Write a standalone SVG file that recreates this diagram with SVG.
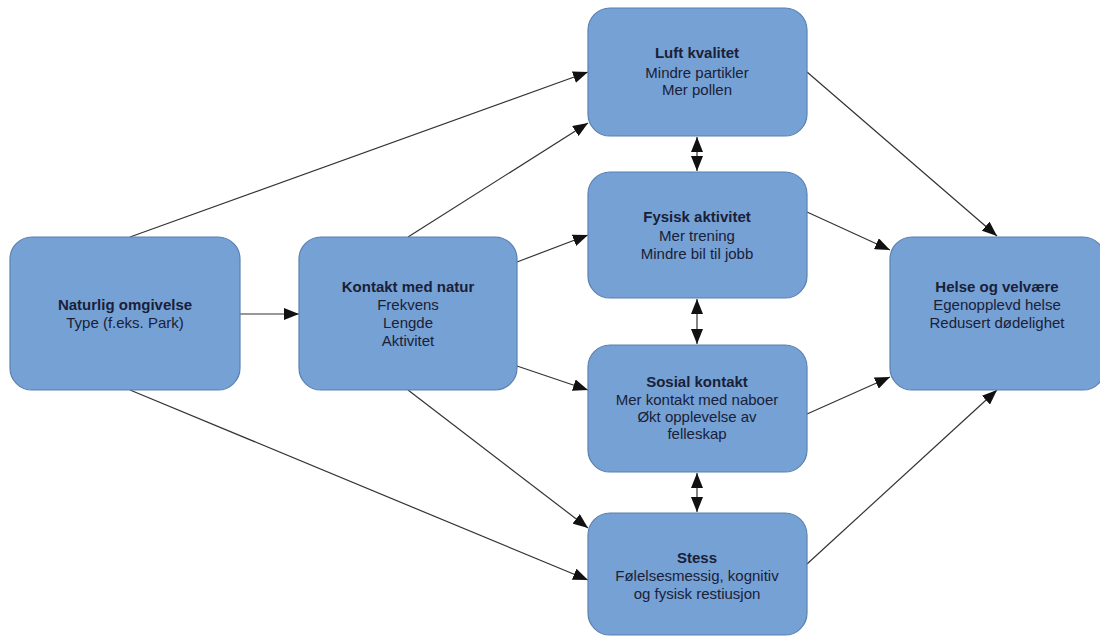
<svg xmlns="http://www.w3.org/2000/svg" width="1100" height="636" viewBox="0 0 1100 636">
<defs>
<style>
.node rect{fill:#75a1d4;stroke:#5b80b0;stroke-width:1.2}
.node text{font-family:"Liberation Sans",Arial,sans-serif;font-size:15px;fill:#1a2038;text-anchor:middle}
.node .t{font-weight:bold}
.edges line{stroke:#333;stroke-width:1.2;fill:none}
</style>
<marker id="arr" markerUnits="userSpaceOnUse" markerWidth="16" markerHeight="12" refX="15" refY="6" orient="auto-start-reverse">
<path d="M0,0 L15,6 L0,12 z" fill="#111"/>
</marker>
</defs>
<rect width="1100" height="636" fill="#fff"/>
<g class="edges">
<line x1="130" y1="237" x2="588" y2="72" marker-end="url(#arr)"/>
<line x1="408" y1="237" x2="588" y2="123" marker-end="url(#arr)"/>
<line x1="240" y1="314" x2="299" y2="314" marker-end="url(#arr)"/>
<line x1="517" y1="262" x2="588" y2="235" marker-end="url(#arr)"/>
<line x1="517" y1="366" x2="588" y2="390" marker-end="url(#arr)"/>
<line x1="408" y1="390" x2="588" y2="528" marker-end="url(#arr)"/>
<line x1="130" y1="390" x2="588" y2="580" marker-end="url(#arr)"/>
<line x1="807" y1="72" x2="997" y2="236" marker-end="url(#arr)"/>
<line x1="807" y1="212" x2="890" y2="250" marker-end="url(#arr)"/>
<line x1="807" y1="414" x2="890" y2="377" marker-end="url(#arr)"/>
<line x1="807" y1="564" x2="997" y2="390" marker-end="url(#arr)"/>
<line x1="697" y1="137" x2="697" y2="171" marker-start="url(#arr)" marker-end="url(#arr)"/>
<line x1="697" y1="299" x2="697" y2="344" marker-start="url(#arr)" marker-end="url(#arr)"/>
<line x1="697" y1="473" x2="697" y2="512" marker-start="url(#arr)" marker-end="url(#arr)"/>
</g>
<g id="naturlig" class="node">
<rect x="10" y="237" width="230" height="153" rx="22"/>
<text class="t" x="125" y="310">Naturlig omgivelse</text>
<text x="125" y="328">Type (f.eks. Park)</text>
</g>
<g id="kontakt" class="node">
<rect x="299" y="237" width="218" height="153" rx="22"/>
<text class="t" x="408" y="292">Kontakt med natur</text>
<text x="408" y="310">Frekvens</text>
<text x="408" y="328">Lengde</text>
<text x="408" y="346">Aktivitet</text>
</g>
<g id="luft" class="node">
<rect x="588" y="8" width="219" height="128" rx="22"/>
<text class="t" x="697" y="58">Luft kvalitet</text>
<text x="697" y="78">Mindre partikler</text>
<text x="697" y="95">Mer pollen</text>
</g>
<g id="fysisk" class="node">
<rect x="588" y="172" width="219" height="126" rx="22"/>
<text class="t" x="697" y="222">Fysisk aktivitet</text>
<text x="697" y="241">Mer trening</text>
<text x="697" y="259">Mindre bil til jobb</text>
</g>
<g id="sosial" class="node">
<rect x="588" y="345" width="219" height="127" rx="22"/>
<text class="t" x="697" y="387">Sosial kontakt</text>
<text x="697" y="405">Mer kontakt med naboer</text>
<text x="697" y="422">Økt opplevelse av</text>
<text x="697" y="439">felleskap</text>
</g>
<g id="stess" class="node">
<rect x="588" y="513" width="219" height="122" rx="22"/>
<text class="t" x="697" y="563">Stess</text>
<text x="697" y="581">Følelsesmessig, kognitiv</text>
<text x="697" y="599">og fysisk restiusjon</text>
</g>
<g id="helse" class="node">
<rect x="890" y="237" width="215" height="153" rx="22"/>
<text class="t" x="997" y="292">Helse og velvære</text>
<text x="997" y="310">Egenopplevd helse</text>
<text x="997" y="328">Redusert dødelighet</text>
</g>
</svg>
